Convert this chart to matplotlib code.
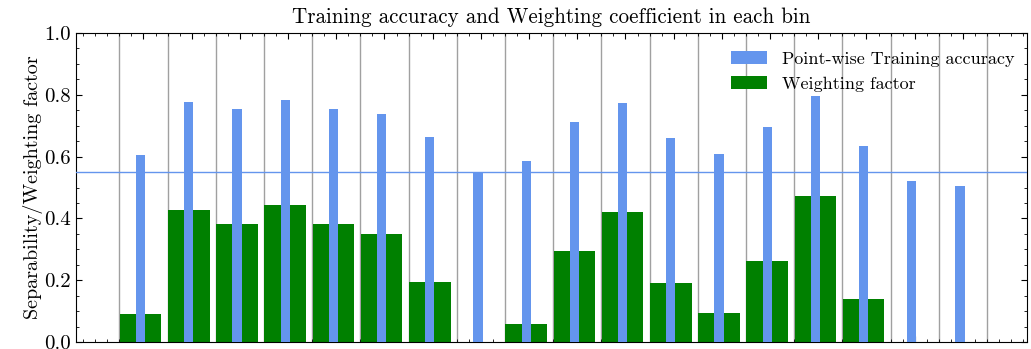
import numpy as np
import matplotlib
matplotlib.use("Agg")
import matplotlib.pyplot as plt
from matplotlib.ticker import FixedLocator, MultipleLocator, NullFormatter, FormatStrFormatter

plt.rcParams["font.family"] = "serif"
plt.rcParams["font.serif"] = ["cmr10", "DejaVu Serif"]
plt.rcParams["mathtext.fontset"] = "cm"
plt.rcParams["axes.formatter.use_mathtext"] = True

# Per-bin values
bins = np.arange(18)
train_acc = [0.605, 0.776, 0.755, 0.784, 0.755, 0.739, 0.662, 0.548, 0.587,
             0.712, 0.773, 0.659, 0.607, 0.696, 0.796, 0.634, 0.522, 0.505]
weight = [0.092, 0.428, 0.383, 0.444, 0.383, 0.351, 0.194, 0.0, 0.058,
          0.296, 0.422, 0.190, 0.095, 0.261, 0.474, 0.139, 0.0, 0.0]
threshold = 0.55

fig = plt.figure(figsize=(10.31, 3.49), dpi=100)
ax = fig.add_axes([76 / 1031, 7 / 349, (1027 - 76) / 1031, (342 - 33) / 349])

pos = bins - 0.06
edges = np.arange(-0.5, 18.0, 1.0)
for e in edges:
    ax.axvline(e, color="#a0a0a0", lw=1.0, zorder=0)

ax.bar(pos, weight, width=0.86, color="green", label="Weighting factor", zorder=2)
ax.bar(pos, train_acc, width=0.19, color="cornflowerblue",
       label="Point-wise Training accuracy", zorder=3)
ax.axhline(threshold, color="cornflowerblue", lw=1.0, zorder=4)

ax.set_xlim(-1.4, 18.33)
ax.set_ylim(0, 1.0)
ax.xaxis.set_major_locator(FixedLocator(bins))
ax.xaxis.set_minor_locator(MultipleLocator(0.25))
ax.xaxis.set_major_formatter(NullFormatter())
ax.yaxis.set_major_locator(MultipleLocator(0.2))
ax.yaxis.set_minor_locator(MultipleLocator(0.05))
ax.tick_params(which="both", direction="in", top=True, right=True, labelsize=15)
ax.tick_params(which="major", length=4, width=0.8)
ax.tick_params(which="minor", length=2, width=0.6)
ax.yaxis.set_major_formatter(FormatStrFormatter("%.1f"))

ax.set_ylabel("Separability/Weighting factor", fontsize=14.5, labelpad=1)
ax.set_title("Training accuracy and Weighting coefficient in each bin", fontsize=15.2, pad=7)

handles, labels = ax.get_legend_handles_labels()
ax.legend(handles[::-1], labels[::-1], loc="upper right", bbox_to_anchor=(1.0, 0.983),
          frameon=False, fontsize=13, borderaxespad=0.3, labelspacing=0.55)

fig.savefig("out.png", dpi=100)
